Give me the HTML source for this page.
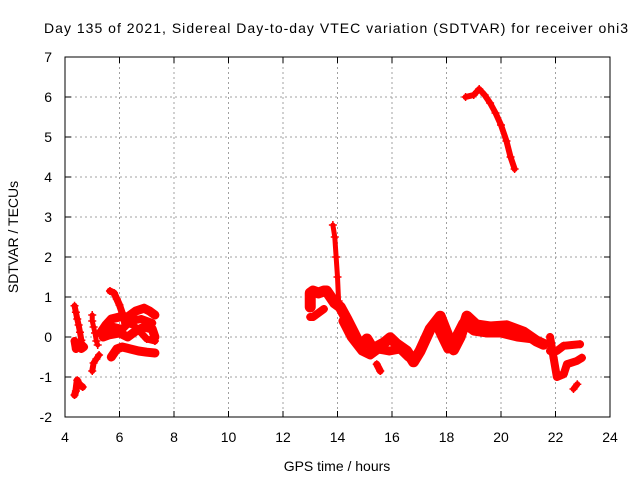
<!DOCTYPE html>
<html><head><meta charset="utf-8"><style>
body{margin:0;background:#fff}
svg{display:block;font-family:"Liberation Sans",sans-serif}
</style></head><body>
<svg id="chart" width="640" height="480" viewBox="0 0 640 480">
<text x="336" y="33" font-size="14" text-anchor="middle" textLength="584">Day 135 of 2021, Sidereal Day-to-day VTEC variation (SDTVAR) for receiver ohi3</text>
<text transform="translate(18,237) rotate(-90)" font-size="14" text-anchor="middle">SDTVAR / TECUs</text>
<text x="337" y="471" font-size="14" text-anchor="middle">GPS time / hours</text>
<g id="grid"></g>
<g id="marks"></g>
<rect x="65" y="57" width="545" height="360" fill="none" stroke="#000" stroke-width="1"/>
<g id="ticks"></g>
</svg>
<script>
const xTicks=[4,6,8,10,12,14,16,18,20,22,24];
const yTicks=[-2,-1,0,1,2,3,4,5,6,7];
const segA=[[4.35,0.78],[4.4,0.62],[4.45,0.45],[4.5,0.3],[4.55,0.12],[4.6,-0.08],[4.62,-0.2]];
const segA2=[[4.35,-0.1],[4.4,-0.3],[4.5,-0.2],[4.6,-0.3],[4.7,-0.25],[4.55,-0.15]];
const segB=[[4.35,-1.45],[4.4,-1.35],[4.45,-1.08],[4.5,-1.15],[4.55,-1.2],[4.65,-1.25]];
const segC=[[5.0,0.55],[5.0,0.4],[5.05,0.25],[5.1,0.1],[5.15,-0.1],[5.2,-0.2]];
const segC2=[[5.0,-0.85],[5.05,-0.65],[5.15,-0.55],[5.25,-0.45]];
const segD1=[[5.3,0.1],[5.5,0.3],[5.7,0.45],[6.0,0.5],[6.3,0.5],[6.6,0.65],[6.9,0.72],[7.1,0.65],[7.3,0.55]];
const segD2=[[5.4,0.0],[5.6,0.05],[6.0,0.1],[6.3,0.0],[6.6,0.15],[6.9,0.25],[7.2,0.2],[7.3,0.0]];
const segD3=[[5.7,-0.5],[5.9,-0.3],[6.1,-0.25],[6.4,-0.3],[6.7,-0.35],[7.0,-0.38],[7.3,-0.4]];
const segD4=[[5.65,1.15],[5.8,1.1],[5.9,0.95],[6.0,0.8],[6.1,0.6],[6.2,0.35],[6.5,0.3],[6.8,0.1],[7.0,-0.05],[7.3,-0.1]];
const segD5=[[5.5,0.15],[5.8,0.25],[6.1,0.2],[6.4,0.4],[6.8,0.45],[7.2,0.35]];
const segE1=[[13.0,0.75],[13.0,1.1],[13.1,1.15],[13.3,1.1],[13.5,1.15],[13.6,1.15],[13.7,1.05],[13.9,0.85],[14.1,0.75],[14.34,0.45],[14.6,0.1],[14.83,-0.22],[15.08,-0.05],[15.3,-0.3],[15.7,-0.15],[15.93,-0.02],[16.18,-0.18],[16.54,-0.35],[16.79,-0.62],[17.03,-0.35],[17.4,0.2],[17.77,0.52],[18.0,0.12],[18.26,-0.32],[18.5,0],[18.75,0.52],[19.1,0.3],[19.6,0.25],[20.2,0.28],[20.83,0.12],[21.3,-0.1],[21.56,-0.18]];
const segE1b=[[14.2,0.4],[14.5,0.0],[14.9,-0.35],[15.2,-0.45],[15.5,-0.3],[15.9,-0.35],[16.3,-0.3],[16.6,-0.5]];
const segE1c=[[17.6,0.35],[17.8,0.05],[18.05,-0.3],[18.3,-0.05],[18.6,0.35],[19.0,0.15],[19.5,0.1],[20.0,0.1],[20.6,0.0],[21.2,-0.05],[21.5,-0.15]];
const segE2=[[13.0,0.5],[13.1,0.5],[13.3,0.6],[13.5,0.7]];
const segE3=[[13.83,2.8],[13.9,2.5],[13.95,2.0],[14.0,1.5],[14.04,0.9]];
const segE4=[[15.44,-0.68],[15.57,-0.85]];
const segE5=[[21.8,0],[21.93,-0.52],[22.05,-1.0],[22.3,-0.93],[22.42,-0.68],[22.78,-0.6],[22.97,-0.52]];
const segE6=[[21.8,-0.35],[22.05,-0.35],[22.3,-0.22],[22.6,-0.2],[22.9,-0.18]];
const segE7=[[22.66,-1.3],[22.8,-1.18]];
const segF=[[18.7,6.0],[19.0,6.05],[19.2,6.2],[19.4,6.05],[19.6,5.85],[19.8,5.6],[20.0,5.3],[20.2,4.9],[20.35,4.5],[20.5,4.2]];
const series=[segA,segA2,segB,segC,segC2,segD1,segD2,segD3,segD4,segD5,segE1,segE1b,segE1c,segE2,segE3,segE4,segE5,segE6,segE7,segF];
const widths=[6,8,7,5,6,9,9,9,7,8,11,9,9,8,5,7,8,8,6,6];

const X=v=>65+(v-4)*545/20;
const Y=v=>417-(v+2)*40;
const NS="http://www.w3.org/2000/svg";
function mk(t,a,p){const e=document.createElementNS(NS,t);for(const k in a)e.setAttribute(k,a[k]);p.appendChild(e);return e;}
const grid=document.getElementById('grid'),ticks=document.getElementById('ticks'),marks=document.getElementById('marks');
xTicks.forEach(t=>{
  const x=X(t);
  if(t>4&&t<24){const g=mk('line',{x1:x,x2:x,y1:57,y2:417,stroke:'#a0a0a0','stroke-dasharray':'2,3'},grid);
  
  }
  mk('line',{x1:x,x2:x,y1:417,y2:411,stroke:'#000'},ticks);
  mk('line',{x1:x,x2:x,y1:57,y2:63,stroke:'#000'},ticks);
  const l=mk('text',{x:x,y:442,'font-size':14,'text-anchor':'middle'},ticks);l.textContent=t;
  
  
});
yTicks.forEach(t=>{
  const y=Y(t);
  if(t>-2&&t<7){const g=mk('line',{x1:65,x2:610,y1:y,y2:y,stroke:'#a0a0a0','stroke-dasharray':'2,3'},grid);
  
  }
  mk('line',{x1:65,x2:71,y1:y,y2:y,stroke:'#000'},ticks);
  mk('line',{x1:604,x2:610,y1:y,y2:y,stroke:'#000'},ticks);
  const l=mk('text',{x:52,y:y+5,'font-size':14,'text-anchor':'end'},ticks);l.textContent=t;
  
  
});
series.forEach((s,i)=>{
  const pl=mk('polyline',{points:s.map(p=>X(p[0])+','+Y(p[1])).join(' '),fill:'none',stroke:'#f00','stroke-width':widths[i],'stroke-linejoin':'round','stroke-linecap':'round'},marks);
  
  
  s.forEach(p=>{
    const x=X(p[0]),y=Y(p[1]);
    const m=mk('path',{d:`M${x-4},${y}H${x+4}M${x},${y-4}V${y+4}`,stroke:'#f00','stroke-width':1.5},marks);
    
    
  });
});
</script>
</body></html>
